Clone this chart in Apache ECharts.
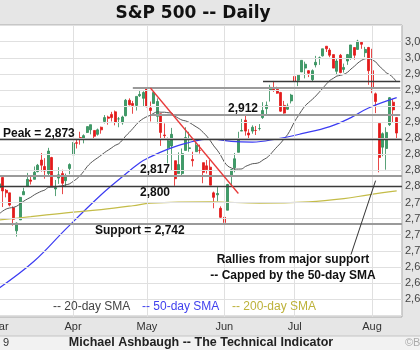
<!DOCTYPE html>
<html><head><meta charset="utf-8">
<script src="https://cdn.jsdelivr.net/npm/echarts@6.0.0/dist/echarts.min.js"></script>
<style>html,body{margin:0;padding:0;background:#e6e6e6;}#c{width:420px;height:350px;}</style>
</head><body><div id="c"></div>
<script>
// trading days per month (2019), last slot is an empty spacer
const monthNames = ['Mar','Apr','May','Jun','Jul','Aug'];
const monthDays = [
  [1,4,5,6,7,8,11,12,13,14,15,18,19,20,21,22,25,26,27,28,29],
  [1,2,3,4,5,8,9,10,11,12,15,16,17,18,22,23,24,25,26,29,30],
  [1,2,3,6,7,8,9,10,13,14,15,16,17,20,21,22,23,24,28,29,30,31],
  [3,4,5,6,7,10,11,12,13,14,17,18,19,20,21,24,25,26,27,28],
  [1,2,3,5,8,9,10,11,12,15,16,17,18,19,22,23,24,25,26,29,30,31],
  [1,2,5,6,7,8,9,12,13]
];
const opens = [2798,2814,2794,2790,2767,2731,2748,2787,2800,2810,2811,2823,2841,2831,2820,2845,2796,2813,2820,2809,2828,
2849,2868,2876,2874,2884,2888,2887,2881,2892,2901,2908,2912,2916,2905,2899,2910,2934,2929,2926,2941,2937,
2952,2922,2929,2909,2913,2880,2860,2863,2840,2820,2820,2856,2859,2842,2854,2856,2837,2832,2830,2790,2787,2766,
2752,2763,2818,2829,2853,2886,2903,2883,2886,2887,2890,2907,2921,2950,2953,2951,2946,2926,2920,2933,
2971,2965,2978,2984,2980,2966,2989,3000,3003,3018,3012,3005,2979,3004,2982,2995,2999,3016,3013,3024,3008,3016,
2980,2944,2898,2861,2859,2896,2931,2907];
const highs = [2808,2817,2796,2790,2769,2744,2784,2798,2821,2815,2831,2835,2852,2844,2860,2846,2810,2830,2826,2820,2836,
2869,2873,2885,2881,2893,2896,2887,2890,2893,2911,2910,2916,2918,2908,2910,2936,2937,2933,2940,2950,2948,
2954,2932,2948,2937,2913,2898,2876,2891,2840,2853,2859,2892,2885,2854,2869,2865,2837,2841,2841,2792,2799,2769,
2763,2804,2827,2852,2885,2905,2911,2889,2895,2894,2897,2931,2932,2958,2964,2955,2947,2933,2929,2944,
2978,2973,2996,2994,2981,2982,3003,3002,3014,3018,3015,3005,2998,3006,2991,3006,3020,3016,3028,3026,3017,3017,
3014,2946,2898,2884,2892,2939,2936,2908];
const lows = [2787,2768,2783,2769,2739,2722,2748,2787,2800,2803,2811,2822,2823,2812,2817,2800,2785,2804,2788,2799,2819,
2849,2859,2865,2867,2883,2881,2873,2879,2882,2898,2896,2901,2895,2892,2896,2909,2926,2913,2918,2939,2924,
2923,2901,2929,2898,2863,2873,2836,2825,2801,2820,2815,2856,2854,2831,2854,2851,2805,2820,2802,2766,2777,2751,
2729,2763,2801,2822,2853,2886,2879,2875,2882,2880,2887,2905,2911,2932,2947,2944,2916,2913,2919,2929,
2952,2956,2978,2968,2970,2963,2985,2989,3002,3009,3001,2984,2973,2976,2977,2989,2997,2997,3013,3014,3001,2958,
2945,2914,2822,2847,2826,2894,2900,2873];
const closes = [2804,2793,2790,2771,2749,2743,2783,2792,2811,2808,2822,2833,2833,2824,2855,2801,2798,2818,2805,2815,2834,
2867,2867,2873,2879,2893,2896,2878,2888,2888,2907,2906,2907,2900,2905,2908,2934,2927,2926,2940,2943,2946,
2924,2918,2946,2932,2884,2879,2871,2881,2812,2834,2851,2876,2860,2840,2864,2856,2822,2826,2802,2783,2789,2752,
2744,2803,2826,2843,2873,2887,2886,2880,2892,2887,2890,2918,2926,2954,2950,2945,2917,2914,2925,2942,
2964,2973,2996,2990,2976,2980,2993,3000,3014,3014,3004,2984,2995,2977,2985,3005,3020,3004,3026,3021,3013,2980,
2954,2932,2845,2882,2884,2938,2919,2883];
const sma20 = [2757.3,2761.6,2764.9,2766.5,2767.4,2769.3,2773.0,2777.1,2780.4,2783.2,2787.0,2789.9,2792.5,2794.5,2798.5,2798.9,2799.0,2800.3,2800.9,2802.5,2804.0,
2807.7,2811.6,2816.7,2823.2,2830.7,2836.3,2840.7,2844.5,2848.5,2852.8,2856.4,2860.1,2863.9,2866.4,2871.8,2878.6,2884.0,2890.0,2896.3,2901.7,2905.6,
2908.5,2910.7,2914.0,2916.0,2915.4,2915.4,2914.6,2914.2,2909.4,2905.9,2903.1,2901.9,2899.6,2896.2,2892.7,2889.2,2884.0,2878.3,2871.3,2863.1,2856.4,2848.1,
2838.1,2831.6,2828.7,2826.9,2827.0,2827.3,2831.0,2833.3,2835.3,2835.8,2837.3,2841.2,2844.3,2849.2,2855.6,2861.6,2867.3,2873.9,2880.7,2890.2,
2901.2,2909.6,2918.1,2925.5,2930.6,2935.3,2940.6,2946.6,2952.7,2959.1,2964.8,2968.1,2971.6,2972.7,2974.4,2977.4,2982.5,2987.0,2992.1,2996.0,2998.5,2998.9,
2996.7,2993.8,2987.3,2982.4,2976.9,2973.8,2969.1,2962.5];
// [day index, value]
const sma50 = [[0,2642],[10,2684],[19,2734],[29,2787],[35,2815],[40,2837],[43,2846],[48,2858],[53,2867],[60,2874],[66,2870],[72,2869],[79,2874],[86,2882],[94,2893],[100,2907],[105,2922],[113,2938]];
const sma200 = [[0,2748],[9,2753],[19,2759],[29,2764],[38,2770],[43,2774],[60,2776],[74,2774],[88,2776],[98,2781],[105,2787],[113,2793]];
const yTicks = [2625,2650,2675,2700,2725,2750,2775,2800,2825,2850,2875,2900,2925,2950,2975,3000,3025];
const peak = 2873, support = 2742, lvl2800 = 2800, lvl2817 = 2817, lvl2912 = 2912, lvl2954 = 2954, lvl2964 = 2964;

const categories = [];
const monthStart = {};
monthDays.forEach((days, m) => {
  monthStart[categories.length] = monthNames[m];
  days.forEach(d => categories.push(monthNames[m] + ' ' + d));
});
const candles = opens.map((o, i) => [o, closes[i], lows[i], highs[i]]);

const chart = echarts.init(document.getElementById('c'), null, {renderer: 'canvas'});
const F = '"Liberation Sans", Arial, sans-serif';
const gridLines = [];
for (let v = 2600; v <= 3050; v += 25) gridLines.push({yAxis: v});
Object.keys(monthStart).forEach(k => { if (+k > 0) gridLines.push({xAxis: categories[+k]}); });

const txt = (text, x, y, opt) => Object.assign({
  type: 'text', z: 50, silent: true,
  style: Object.assign({text: text, x: x, y: y, font: 'bold 12px ' + F, fill: '#111',
    align: 'left', verticalAlign: 'middle', textAlign: 'left', textVerticalAlign: 'middle'}, opt || {})
});

chart.setOption({
  animation: false,
  backgroundColor: '#e6e6e6',
  grid: {left: -2.63, top: 25, width: 404.6, height: 292, outerBoundsMode: 'none', containLabel: false,
    show: true, backgroundColor: '#ffffff', borderColor: '#a8a8a8', borderWidth: 1},
  xAxis: {
    type: 'category', data: categories, boundaryGap: true,
    axisLine: {show: false}, axisTick: {show: false}, splitLine: {show: false},
    axisLabel: {interval: (i) => monthStart[i] !== undefined, formatter: (v, i) => monthStart[i] || '',
      color: '#333', fontSize: 11, fontFamily: F, margin: 4}
  },
  yAxis: {
    type: 'value', position: 'right', min: 2597, max: 3051, scale: true,
    axisLine: {show: false}, axisTick: {show: false}, splitLine: {show: false},
    axisLabel: {customValues: yTicks, formatter: v => v.toLocaleString('en-US'), color: '#444', fontSize: 11, fontFamily: F, margin: 3}
  },
  series: [
    {type: 'line', name: 'grid', data: [], silent: true, z: 1,
      markLine: {silent: true, symbol: 'none', label: {show: false}, animation: false,
        lineStyle: {color: '#e0e0e0', width: 1, type: 'solid'}, data: gridLines}},
    {type: 'line', name: 'levelsGray', data: [], silent: true, z: 2,
      markLine: {silent: true, symbol: 'none', label: {show: false}, animation: false,
        lineStyle: {color: '#9a9a9a', width: 2, type: 'solid'},
        data: [{yAxis: lvl2817}, {yAxis: support},
          [{coord: [43, lvl2912]}, {coord: [114, lvl2912]}],
          [{coord: [38, lvl2954]}, {coord: [114, lvl2954]}]]}},
    {type: 'line', name: 'levelsDark', data: [], silent: true, z: 2,
      markLine: {silent: true, symbol: 'none', label: {show: false}, animation: false,
        lineStyle: {color: '#3a3a3a', width: 1.4, type: 'solid'},
        data: [{yAxis: peak}, {yAxis: lvl2800},
          [{coord: [75, lvl2964]}, {coord: [114, lvl2964]}]]}},
    {type: 'line', name: 'trend', data: [], silent: true, z: 6,
      markLine: {silent: true, symbol: 'none', label: {show: false}, animation: false,
        lineStyle: {color: '#e83a3a', width: 1.3, type: 'solid'},
        data: [[{coord: [43, 2953]}, {coord: [68, 2789]}]]}},
    {type: 'line', name: 'arrow', data: [], silent: true, z: 6,
      markLine: {silent: true, symbol: ['none', 'arrow'], symbolSize: [0, 7], label: {show: false}, animation: false,
        lineStyle: {color: '#333', width: 1, type: 'solid'},
        data: [[{coord: [100, 2694]}, {coord: [107, 2809]}]]}},
    {type: 'candlestick', name: 'S&P 500', data: candles, z: 3, barWidth: 2.5,
      itemStyle: {color: '#3d9e68', color0: '#e31b1b', borderColor: '#2e8a57', borderColor0: '#e31b1b', borderWidth: 0.8}},
    {type: 'line', name: '20-day SMA', data: sma20, z: 4, symbol: 'none', smooth: 0.3,
      lineStyle: {color: '#555', width: 1}},
    {type: 'line', name: '50-day SMA', data: sma50, z: 4, symbol: 'none', smooth: 0.4,
      lineStyle: {color: '#3c3cf2', width: 1.2}},
    {type: 'line', name: '200-day SMA', data: sma200, z: 4, symbol: 'none', smooth: 0.4,
      lineStyle: {color: '#c4bc48', width: 1.2}}
  ],
  graphic: [
    {type: 'rect', z: 0, silent: true, shape: {x: 0, y: 336, width: 420, height: 14}, style: {fill: '#f2f2f2'}},
    {type: 'line', z: 0, silent: true, shape: {x1: 0, y1: 336, x2: 420, y2: 336}, style: {stroke: '#c4c4c4', lineWidth: 1}},
    txt('S&P 500 -- Daily', 193, 14, {font: 'bold 17px "DejaVu Sans", sans-serif', fill: '#111', align: 'center', textAlign: 'center'}),
    txt('Peak = 2,873', 3, 134),
    txt('2,912', 228, 109),
    txt('2,817', 140, 170),
    txt('2,800', 140, 193),
    txt('Support = 2,742', 95, 231),
    txt('Rallies from major support', 293, 260, {align: 'center', textAlign: 'center'}),
    txt('-- Capped by the 50-day SMA', 293, 276, {align: 'center', textAlign: 'center'}),
    txt('-- 20-day SMA', 53, 307, {font: '12px ' + F, fill: '#444'}),
    txt('-- 50-day SMA', 142, 307, {font: '12px ' + F, fill: '#4040ee'}),
    txt('-- 200-day SMA', 232, 307, {font: '12px ' + F, fill: '#bdb23a'}),
    txt('9', 3, 343, {font: '11px ' + F, fill: '#333'}),
    txt('Michael Ashbaugh -- The Technical Indicator', 201, 343, {font: 'bold 12.5px ' + F, fill: '#222', align: 'center', textAlign: 'center'}),
    txt('\u00A9BigCharts', 405, 343, {font: '11px ' + F, fill: '#aaa'})
  ]
});
</script></body></html>
